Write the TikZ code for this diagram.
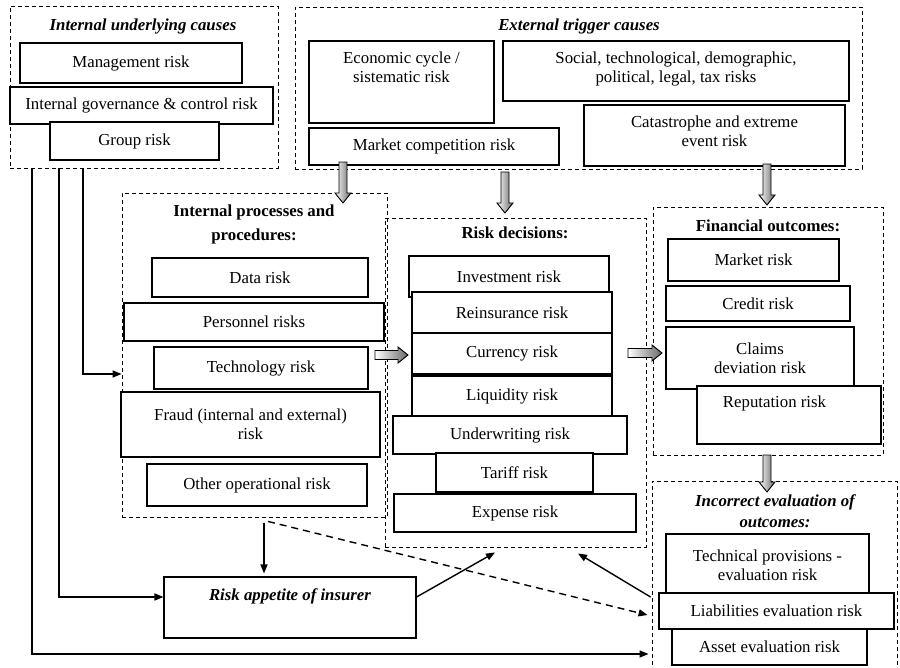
\documentclass[tikz,border=0pt]{standalone}
\usepackage{fontspec}
\setmainfont{Liberation Serif}
\usetikzlibrary{arrows.meta}
\newcommand\garrowdown[3]{%
  \shade[garrow] ({#1-4},{#2}) -- ({#1+4},{#2}) -- ({#1+4},{#3-10}) -- ({#1+8},{#3-10})
    -- ({#1},{#3}) -- ({#1-8},{#3-10}) -- ({#1-4},{#3-10}) -- cycle;}
\newcommand\garrowright[3]{%
  \shade[garrow] ({#2},{#1-4.5}) -- ({#3-10},{#1-4.5}) -- ({#3-10},{#1-8}) -- ({#3},{#1})
    -- ({#3-10},{#1+8}) -- ({#3-10},{#1+4.5}) -- ({#2},{#1+4.5}) -- cycle;}
\begin{document}
\begin{tikzpicture}[x=1pt,y=-1pt,
  every node/.style={font=\fontsize{16.8}{19.3}\selectfont},
  rbox/.style={draw=black, line width=1.1pt, fill=white, inner sep=0pt, align=center},
  grpbox/.style={draw=black, dash pattern=on 4pt off 3pt, line width=0.9pt, inner sep=0pt},
  ttl/.style={font=\fontsize{16.8}{21}\selectfont\bfseries\itshape, align=center, inner sep=0pt},
  hdr/.style={font=\fontsize{16.8}{24}\selectfont\bfseries, align=center, inner sep=0pt},
  garrow/.style={draw=black, line width=0.9pt, left color=white, right color=black!60},
  arr/.style={line width=1.4pt, -{Triangle[length=9pt,width=7pt]}},
  darr/.style={arr, dash pattern=on 7pt off 5pt}]
\clip (0,0) rectangle (900,667);
\useasboundingbox (0,0) rectangle (900,667);

% group boxes
\node[grpbox, minimum width=268, minimum height=162] (iuc) at (144,87) {};
\node[grpbox, minimum width=567, minimum height=162] (etc) at (578.5,88) {};
\node[grpbox, minimum width=265, minimum height=324] (ipp) at (254.5,355) {};
\node[grpbox, minimum width=261, minimum height=329] (rd) at (515.5,382.5) {};
\node[grpbox, minimum width=230, minimum height=248] (fo) at (768,331) {};
\node[grpbox, minimum width=245, minimum height=219] (iev) at (774.5,590.5) {};

% titles
\node[ttl] (iuct) at (143,26) {Internal underlying causes};
\node[ttl] (etct) at (579,26) {External trigger causes};
\node[hdr] (ippt) at (254,224) {Internal processes and\\procedures:};
\node[hdr] (rdt) at (515,233) {Risk decisions:};
\node[hdr] (fot) at (768,226) {Financial outcomes:};
\node[ttl] (ievt) at (775,511) {Incorrect evaluation of\\outcomes:};

% internal underlying causes
\node[rbox, minimum width=222, minimum height=40] (mgmt) at (131,63) {Management risk};
\node[rbox, minimum width=263, minimum height=37] (gov) at (141.5,105.5) {Internal governance \& control risk};
\node[rbox, minimum width=169, minimum height=38] (grprisk) at (134.5,141) {Group risk};

% external trigger causes
\node[rbox, minimum width=185, minimum height=82] (econ) at (401.5,82)
  {\parbox[c][82pt][t]{185pt}{\centering\vspace*{11pt}Economic cycle /\\sistematic risk}};
\node[rbox, minimum width=346, minimum height=60] (soc) at (676,71)
  {\parbox[c][60pt][t]{346pt}{\centering\vspace*{11pt}Social, technological, demographic,\\political, legal, tax risks}};
\node[rbox, minimum width=250, minimum height=37] (mkc) at (434,146.5) {Market competition risk};
\node[rbox, minimum width=261, minimum height=61] (cat) at (714.5,135.5)
  {\parbox[c][61pt][t]{261pt}{\centering\vspace*{10.5pt}Catastrophe and extreme\\event risk}};

% internal processes
\node[rbox, minimum width=216, minimum height=39] (data) at (260,277.5) {Data risk};
\node[rbox, minimum width=260, minimum height=38] (pers) at (254,322) {Personnel risks};
\node[rbox, minimum width=214, minimum height=42] (tech) at (261,368) {Technology risk};
\node[rbox, minimum width=259, minimum height=65] (fraud) at (250.5,424.5) {Fraud (internal and external)\\risk};
\node[rbox, minimum width=220, minimum height=42] (other) at (257,485) {Other operational risk};

% risk decisions
\node[rbox, minimum width=200, minimum height=41] (inv) at (509,276.5) {Investment risk};
\node[rbox, minimum width=200, minimum height=41] (reins) at (512,312.5) {Reinsurance risk};
\node[rbox, minimum width=200, minimum height=41] (cur) at (512,353.5) {Currency risk};
\node[rbox, minimum width=200, minimum height=41] (liq) at (512,396.5) {Liquidity risk};
\node[rbox, minimum width=234, minimum height=38] (uw) at (510,435) {Underwriting risk};
\node[rbox, minimum width=157, minimum height=39] (tar) at (514.5,472.5) {Tariff risk};
\node[rbox, minimum width=242, minimum height=38] (exp) at (515,513) {Expense risk};

% financial outcomes
\node[rbox, minimum width=171, minimum height=42] (mkt) at (753.5,260) {Market risk};
\node[rbox, minimum width=184, minimum height=35] (cred) at (758,303.5) {Credit risk};
\node[rbox, minimum width=188, minimum height=62] (clm) at (760,358) {Claims\\deviation risk};
\node[rbox, minimum width=184, minimum height=58] (rep) at (789,415)
  {\parbox[c][58pt][t]{184pt}{\centering\vspace*{10pt}Reputation risk\hspace*{29pt}}};

% incorrect evaluation
\node[rbox, minimum width=203, minimum height=63] (tp) at (767.5,565.5) {Technical provisions -\\evaluation risk};
\node[rbox, minimum width=235, minimum height=36] (liab) at (776.5,611) {Liabilities evaluation risk};
\node[rbox, minimum width=195, minimum height=36] (asset) at (769.5,647) {Asset evaluation risk};

% risk appetite
\node[rbox, minimum width=252, minimum height=61] (app) at (290,607.5)
  {\parbox[c][61pt][t]{252pt}{\centering\vspace*{12pt}\bfseries\itshape Risk appetite of insurer}};

% block arrows
\garrowdown{343}{162}{203}
\garrowdown{505}{172}{213}
\garrowdown{767}{164}{205}
\garrowdown{767}{455}{492}
\garrowright{355}{375}{408}
\garrowright{353}{628}{662}

% connectors
\coordinate (p1) at (83,374);
\coordinate (p2) at (59,597);
\coordinate (p3) at (32,654);
\draw[arr] (iuc.south -| p1) -- (p1) -- (p1 -| ipp.west);
\draw[arr] (iuc.south -| p2) -- (p2) -- (p2 -| app.west);
\draw[arr] (iuc.south -| p3) -- (p3) -- ([xshift=-3pt]p3 -| iev.west);
\draw[arr] ([xshift=9.5pt,yshift=-6pt]ipp.south) -- ([xshift=-26pt,yshift=3pt]app.north);
\draw[darr] ([xshift=13.5pt,yshift=-4pt]ipp.south) -- ([xshift=-4pt,yshift=-24.5pt]iev.west);
\draw[arr] ([yshift=10.5pt]app.east) -- ([xshift=-20.5pt,yshift=-5pt]rd.south);
\draw[arr] ([xshift=-1pt,yshift=-6.5pt]iev.west) -- ([xshift=62.5pt,yshift=-6pt]rd.south);
\end{tikzpicture}
\end{document}
